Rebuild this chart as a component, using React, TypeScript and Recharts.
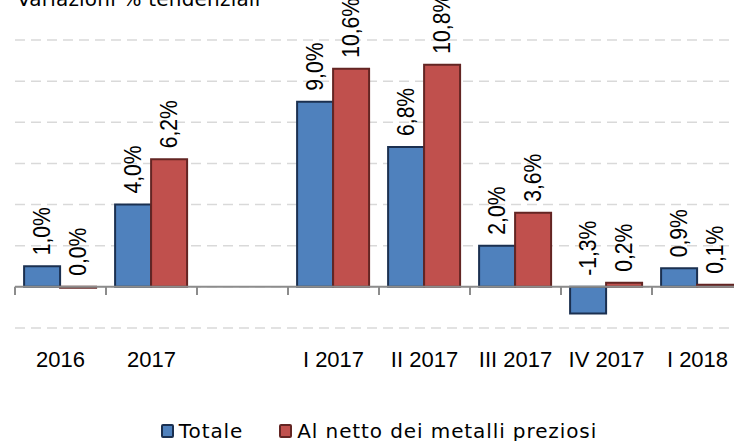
import React from "react";
import {
  BarChart,
  Bar,
  XAxis,
  YAxis,
  CartesianGrid,
  ReferenceLine,
  LabelList,
  Legend,
} from "recharts";

const categories = ["2016", "2017", "", "I 2017", "II 2017", "III 2017", "IV 2017", "I 2018"];
const totale: (number | null)[] = [1.0, 4.0, null, 9.0, 6.8, 2.0, -1.3, 0.9];
const nettoMetalli: (number | null)[] = [-0.04, 6.2, null, 10.6, 10.8, 3.6, 0.2, 0.1];
const yTicks = [-2, 0, 2, 4, 6, 8, 10, 12];
const seriesNames = ["Totale", "Al netto dei metalli preziosi"];
const title = "Variazioni % tendenziali";

const data = categories.map((c, i) => ({ cat: c, totale: totale[i], netto: nettoMetalli[i] }));

const FONT = "'Liberation Sans', Arial, sans-serif";
const WIDE_FONT = "'DejaVu Sans', sans-serif";
const BLUE = "#4F81BD";
const BLUE_EDGE = "#1B3050";
const RED = "#C0504D";
const RED_EDGE = "#632523";

const fmt = (v: number) => {
  const r = Math.round(v * 10) / 10;
  return r.toFixed(1).replace(".", ",") + "%";
};

const renderLabel = (props: any) => {
  const vb = props.viewBox && props.viewBox.x != null ? props.viewBox : props;
  const value = props.value;
  if (value == null || value === "") return null;
  const x = Number(vb.x);
  const y = Number(vb.y);
  const w = Number(vb.width);
  const h = Number(vb.height);
  const cx = x + w / 2;
  const top = Math.min(y, y + h);
  const ly = top - 11;
  return (
    <text
      x={0}
      y={0}
      transform={`translate(${cx} ${ly}) rotate(-90) scale(0.88 1)`}
      textAnchor="start"
      dominantBaseline="central"
      fontSize={24}
      fontFamily={FONT}
      fill="#000"
    >
      {fmt(Number(value))}
    </text>
  );
};

const Swatch = ({ fill, edge }: { fill: string; edge: string }) => (
  <span
    style={{
      display: "inline-block",
      width: 9,
      height: 10,
      background: fill,
      border: `2px solid ${edge}`,
      borderRadius: 2,
      marginRight: 5,
    }}
  />
);

const renderLegend = () => (
  <div
    style={{
      height: 40,
      display: "flex",
      justifyContent: "center",
      alignItems: "flex-start",
      fontFamily: WIDE_FONT,
      fontSize: 20,
      letterSpacing: 0.9,
      color: "#000",
      lineHeight: "20px",
      paddingTop: 20,
      boxSizing: "border-box",
      overflow: "visible",
    }}
  >
    <span style={{ marginRight: 36, display: "flex", alignItems: "center" }}>
      <Swatch fill={BLUE} edge={BLUE_EDGE} />
      {seriesNames[0]}
    </span>
    <span style={{ display: "flex", alignItems: "center" }}>
      <Swatch fill={RED} edge={RED_EDGE} />
      {seriesNames[1]}
    </span>
  </div>
);

export default function App() {
  return (
    <div
      style={{
        position: "absolute",
        left: 0,
        top: 0,
        width: 734,
        height: 441,
        overflow: "hidden",
        background: "#fff",
      }}
    >
      <div
        style={{
          position: "absolute",
          left: 17,
          top: -13,
          fontFamily: WIDE_FONT,
          fontSize: 20,
          letterSpacing: 0.2,
          lineHeight: "24px",
          color: "#000",
          whiteSpace: "nowrap",
        }}
      >
        {title}
      </div>
      <BarChart
        width={760}
        height={441}
        data={data}
        margin={{ top: 40, right: 17, left: 15, bottom: 0 }}
        barCategoryGap="10%"
        barGap={0}
      >
        <CartesianGrid
          vertical={false}
          stroke="#D9D9D9"
          strokeWidth={1.5}
          strokeDasharray="10 6"
        />
        <XAxis
          dataKey="cat"
          axisLine={false}
          tickLine={false}
          tickSize={0}
          tickMargin={23}
          interval={0}
          height={73}
          tick={{ fontSize: 22, fill: "#000", fontFamily: FONT }}
        />
        <YAxis hide domain={[-2, 12]} ticks={yTicks} />
        <Bar
          dataKey="totale"
          name={seriesNames[0]}
          fill={BLUE}
          stroke={BLUE_EDGE}
          strokeWidth={2}
          isAnimationActive={false}
        >
          <LabelList dataKey="totale" content={renderLabel} />
        </Bar>
        <Bar
          dataKey="netto"
          name={seriesNames[1]}
          fill={RED}
          stroke={RED_EDGE}
          strokeWidth={2}
          isAnimationActive={false}
        >
          <LabelList dataKey="netto" content={renderLabel} />
        </Bar>
        <ReferenceLine y={0} stroke="#8C8C8C" strokeWidth={2} />
        {categories.map((c) => (
          <ReferenceLine
            key={"t" + c}
            position="start"
            segment={[
              { x: c, y: 0 },
              { x: c, y: -0.4 },
            ]}
            stroke="#8C8C8C"
            strokeWidth={2}
          />
        ))}
        <Legend verticalAlign="bottom" content={renderLegend} />
      </BarChart>
    </div>
  );
}
